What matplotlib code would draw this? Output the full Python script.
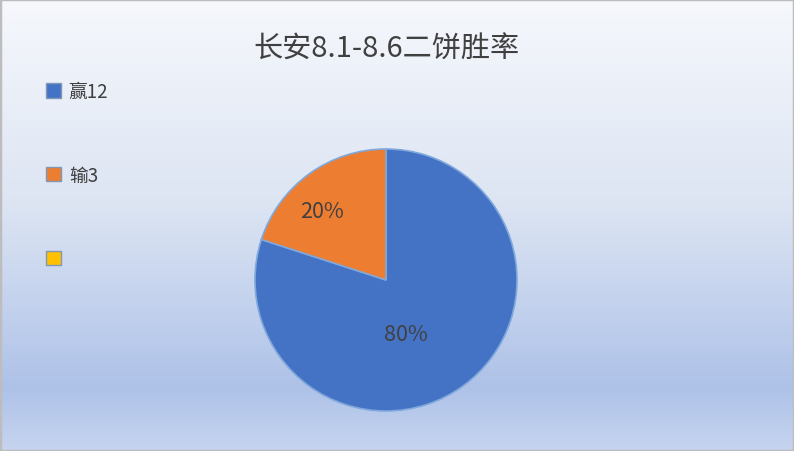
import numpy as np
import matplotlib
matplotlib.use("Agg")
import matplotlib.pyplot as plt
from matplotlib.colors import LinearSegmentedColormap
from matplotlib.patches import Patch, Rectangle

plt.rcParams['font.family'] = ['Noto Sans CJK SC', 'DejaVu Sans']

# ===== Data =====
title = "长安8.1-8.6二饼胜率"
labels = ["赢12", "输3", ""]
values = [12, 3]
pct_labels = ["80%", "20%"]
colors = ["#4472C4", "#ED7D31", "#FFC000"]

fig = plt.figure(figsize=(7.94, 4.52), dpi=100)

# ===== Background gradient =====
bg = fig.add_axes([0, 0, 1, 1], zorder=-10)
cmap = LinearSegmentedColormap.from_list(
    "office_bg",
    [(0.0, "#F6F8FC"), (0.45, "#DDE5F3"), (0.86, "#AEC2E8"), (1.0, "#C6D4EF")],
)
grad = np.linspace(0, 1, 256).reshape(-1, 1)
bg.imshow(grad, aspect="auto", cmap=cmap, extent=[0, 1, 0, 1], origin="upper")
bg.set_axis_off()
fig.patches.append(Rectangle((0, 0), 1, 1, transform=fig.transFigure,
                             fill=False, edgecolor="#BDBDBD", linewidth=2.5))

# ===== Pie =====
r_px = 131
cx, cy = 386, 281
ax = fig.add_axes([(cx - r_px) / 794, (452 - cy - r_px) / 452,
                   2 * r_px / 794, 2 * r_px / 452])
wedges, _ = ax.pie(values, colors=colors[:2], startangle=90, counterclock=False,
                   wedgeprops=dict(edgecolor="#7FA8DC", linewidth=1.2))
ax.set_aspect("auto")
ax.set_xlim(-1, 1)
ax.set_ylim(-1, 1)

# data label spots (Excel best-fit places them off the mid-angle)
ax.text(0.155, -0.41, pct_labels[0], ha="center", va="center",
        fontsize=15.5, color="#404040")
ax.text(-0.49, 0.53, pct_labels[1], ha="center", va="center",
        fontsize=15.5, color="#404040")

# ===== Title =====
fig.text(0.487, 1 - 50 / 452, title, ha="center", va="center",
         fontsize=21, color="#404040")

# ===== Legend =====
handles = [Patch(facecolor=c, edgecolor="#7F98B8", linewidth=1) for c in colors]
fig.legend(handles, labels, loc="upper left", bbox_to_anchor=(0.037, 1 - 65 / 452),
           frameon=False, fontsize=13.5, labelspacing=3.35,
           handlelength=0.8, handleheight=0.8, handletextpad=0.4,
           labelcolor="#404040")

fig.savefig("out.png", dpi=100)
